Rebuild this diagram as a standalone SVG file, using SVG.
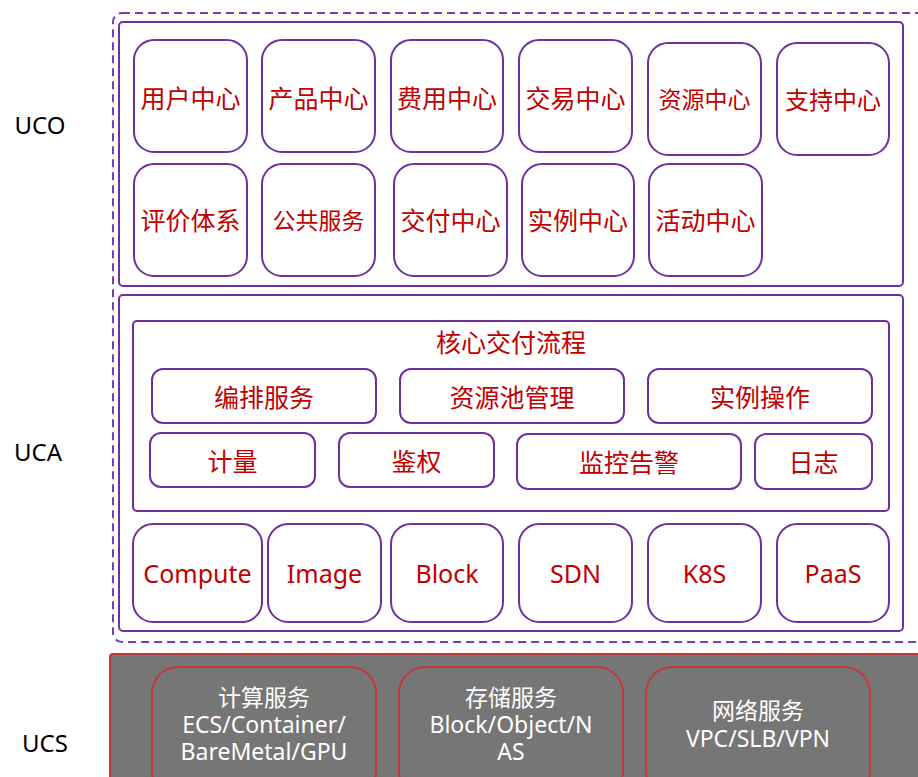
<svg xmlns="http://www.w3.org/2000/svg" width="918" height="777" viewBox="0 0 918 777">
<style>
.bg{fill:#ffffff}
.dash{fill:none;stroke:#7A3DB0;stroke-width:2;stroke-dasharray:8 5}
.panel{fill:#ffffff;stroke:#7030A0;stroke-width:2}
.node{fill:#ffffff;stroke:#7030A0;stroke-width:2}
.t{font-family:"Noto Sans","Noto Sans CJK SC",sans-serif;fill:#C00000;text-anchor:middle;dominant-baseline:central}
.lbl{font-family:"Noto Sans","Noto Sans CJK SC",sans-serif;fill:#000000;font-size:24px;text-anchor:middle;dominant-baseline:central}
.ucs{fill:#767676;stroke:#C0383A;stroke-width:2}
.snode{fill:#767676;stroke:#C0383A;stroke-width:2}
.w{font-family:"Noto Sans","Noto Sans CJK SC",sans-serif;fill:#ffffff;font-size:23px;text-anchor:middle;dominant-baseline:central}
</style>
<rect class="bg" x="0" y="0" width="918" height="777"/>

<g id="labels">
<text class="lbl" x="40" y="124">UCO</text>
<text class="lbl" x="38" y="451">UCA</text>
<text class="lbl" x="45" y="742">UCS</text>
</g>

<rect id="boundary" class="dash" x="113" y="13" width="830" height="629" rx="9"/>

<g id="uco">
<rect class="panel" x="119" y="22" width="784" height="264" rx="4"/>
<g id="n-yonghu"><rect class="node" x="134" y="40" width="113" height="112" rx="20"/><text class="t" x="190.5" y="98" font-size="25">用户中心</text></g>
<g id="n-chanpin"><rect class="node" x="262" y="40" width="113" height="112" rx="20"/><text class="t" x="318.5" y="98" font-size="25">产品中心</text></g>
<g id="n-feiyong"><rect class="node" x="391" y="40" width="112" height="112" rx="20"/><text class="t" x="447" y="98" font-size="25">费用中心</text></g>
<g id="n-jiaoyi"><rect class="node" x="519" y="40" width="113" height="112" rx="20"/><text class="t" x="575.5" y="98" font-size="25">交易中心</text></g>
<g id="n-ziyuan"><rect class="node" x="648" y="43" width="113" height="112" rx="20"/><text class="t" x="704.5" y="99" font-size="23">资源中心</text></g>
<g id="n-zhichi"><rect class="node" x="777" y="43" width="112" height="112" rx="20"/><text class="t" x="833" y="99" font-size="24">支持中心</text></g>
<g id="n-pingjia"><rect class="node" x="134" y="164" width="113" height="112" rx="20"/><text class="t" x="190.5" y="220" font-size="25">评价体系</text></g>
<g id="n-gonggong"><rect class="node" x="262" y="164" width="113" height="112" rx="20"/><text class="t" x="318.5" y="220" font-size="23">公共服务</text></g>
<g id="n-jiaofu"><rect class="node" x="394" y="164" width="113" height="112" rx="20"/><text class="t" x="450.5" y="220" font-size="25">交付中心</text></g>
<g id="n-shili"><rect class="node" x="522" y="164" width="112" height="112" rx="20"/><text class="t" x="578" y="220" font-size="25">实例中心</text></g>
<g id="n-huodong"><rect class="node" x="649" y="164" width="113" height="112" rx="20"/><text class="t" x="705.5" y="220" font-size="25">活动中心</text></g>
</g>

<g id="uca">
<rect class="panel" x="119" y="295" width="784" height="336" rx="4"/>
<g id="core">
<rect class="panel" x="133" y="321" width="756" height="190" rx="4"/>
<text class="t" x="511" y="342" font-size="25">核心交付流程</text>
</g>
<g id="n-bianpai"><rect class="node" x="152" y="369" width="224" height="54" rx="11"/><text class="t" x="264" y="397" font-size="25">编排服务</text></g>
<g id="n-ziyuanchi"><rect class="node" x="400" y="369" width="224" height="54" rx="11"/><text class="t" x="512" y="397" font-size="25">资源池管理</text></g>
<g id="n-shilicaozuo"><rect class="node" x="648" y="369" width="224" height="54" rx="11"/><text class="t" x="760" y="397" font-size="25">实例操作</text></g>
<g id="n-jiliang"><rect class="node" x="150" y="433" width="165" height="54" rx="11"/><text class="t" x="232.5" y="461" font-size="25">计量</text></g>
<g id="n-jianquan"><rect class="node" x="339" y="433" width="155" height="54" rx="11"/><text class="t" x="416.5" y="461" font-size="25">鉴权</text></g>
<g id="n-jiankong"><rect class="node" x="517" y="434" width="224" height="55" rx="11"/><text class="t" x="629" y="462" font-size="25">监控告警</text></g>
<g id="n-rizhi"><rect class="node" x="755" y="434" width="117" height="55" rx="11"/><text class="t" x="813.5" y="462" font-size="25">日志</text></g>
<g id="n-compute"><rect class="node" x="133" y="524" width="129" height="98" rx="20"/><text class="t" x="197.5" y="573" font-size="25">Compute</text></g>
<g id="n-image"><rect class="node" x="268" y="524" width="113" height="98" rx="20"/><text class="t" x="324.5" y="573" font-size="25">Image</text></g>
<g id="n-block"><rect class="node" x="391" y="524" width="112" height="98" rx="20"/><text class="t" x="447" y="573" font-size="25">Block</text></g>
<g id="n-sdn"><rect class="node" x="519" y="524" width="113" height="98" rx="20"/><text class="t" x="575.5" y="573" font-size="25">SDN</text></g>
<g id="n-k8s"><rect class="node" x="648" y="524" width="113" height="98" rx="20"/><text class="t" x="704.5" y="573" font-size="25">K8S</text></g>
<g id="n-paas"><rect class="node" x="777" y="524" width="112" height="98" rx="20"/><text class="t" x="833" y="573" font-size="25">PaaS</text></g>
</g>

<g id="ucs">
<rect class="ucs" x="110" y="654" width="830" height="140" rx="3"/>
<g id="n-compute-svc"><rect class="snode" x="152" y="667" width="224" height="130" rx="26"/>
<text class="w" x="264" y="697">计算服务</text><text class="w" x="264" y="724">ECS/Container/</text><text class="w" x="264" y="751">BareMetal/GPU</text></g>
<g id="n-storage-svc"><rect class="snode" x="399" y="667" width="224" height="130" rx="26"/>
<text class="w" x="511" y="697">存储服务</text><text class="w" x="511" y="724">Block/Object/N</text><text class="w" x="511" y="751">AS</text></g>
<g id="n-network-svc"><rect class="snode" x="646" y="667" width="224" height="130" rx="26"/>
<text class="w" x="758" y="710">网络服务</text><text class="w" x="758" y="738">VPC/SLB/VPN</text></g>
</g>

<g id="connectors"></g>
</svg>
